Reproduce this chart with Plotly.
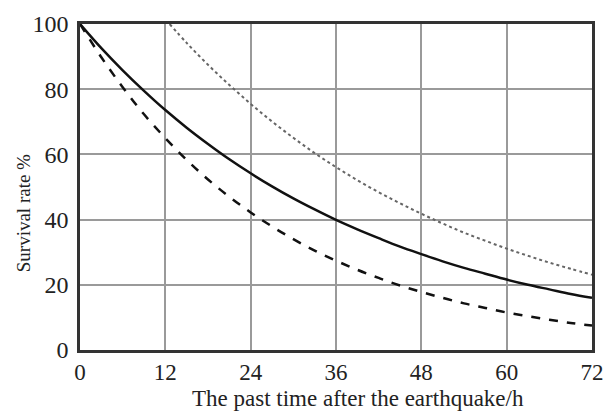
import plotly.graph_objects as go

hours = [0, 3, 6, 9, 12, 15, 18, 21, 24, 27, 30, 33, 36, 39, 42, 45, 48, 51, 54, 57, 60, 63, 66, 69, 72]
solid_rate = [100, 92.6, 85.8, 79.5, 73.6, 68.2, 63.2, 58.5, 54.2, 50.2, 46.5, 43.1, 39.9,
              37.0, 34.3, 31.7, 29.4, 27.2, 25.2, 23.4, 21.6, 20.0, 18.6, 17.2, 16.0]
dashed_rate = [100, 89.8, 80.6, 72.3, 65.0, 58.3, 52.3, 47.0, 42.2, 37.9, 34.0, 30.5, 27.4,
               24.6, 22.1, 19.8, 17.8, 16.0, 14.3, 12.9, 11.5, 10.4, 9.3, 8.3, 7.5]
dotted_hours = [12.6, 15, 18, 21, 24, 27, 30, 33, 36, 39, 42, 45, 48, 51, 54, 57, 60, 63, 66, 69, 72]
dotted_rate = [100, 94.2, 87.5, 81.3, 75.5, 70.1, 65.1, 60.4, 56.1, 52.1, 48.4, 45.0, 41.8,
               38.8, 36.0, 33.5, 31.1, 28.9, 26.8, 24.9, 23.1]
x_ticks = [0, 12, 24, 36, 48, 60, 72]
y_ticks = [0, 20, 40, 60, 80, 100]

fig = go.Figure()
fig.add_trace(go.Scatter(x=dotted_hours, y=dotted_rate, mode="lines",
                         line=dict(color="#666666", width=2, dash="dot", shape="spline")))
fig.add_trace(go.Scatter(x=hours, y=dashed_rate, mode="lines",
                         line=dict(color="#111111", width=2.5, dash="dash", shape="spline")))
fig.add_trace(go.Scatter(x=hours, y=solid_rate, mode="lines",
                         line=dict(color="#111111", width=2.5, shape="spline")))

font = "Liberation Serif"
fig.update_layout(
    width=615, height=415,
    margin=dict(l=80, r=11, t=16, b=65),
    paper_bgcolor="white", plot_bgcolor="white",
    showlegend=False,
    font=dict(family=font, size=20, color="#222222"),
    xaxis=dict(range=[0, 72], tickvals=x_ticks, showgrid=True, gridcolor="#9a9a9a",
               gridwidth=1.5, showline=True, linecolor="#333333", linewidth=2.5,
               mirror=True, zeroline=False, ticks="", ticklabelstandoff=0,
               tickfont=dict(family=font, size=23)),
    yaxis=dict(range=[0, 100], tickvals=y_ticks, showgrid=True, gridcolor="#9a9a9a",
               gridwidth=1.5, showline=True, linecolor="#333333", linewidth=2.5,
               mirror=True, zeroline=False, ticks="", ticklabelstandoff=4,
               tickfont=dict(family=font, size=24)),
    annotations=[
        dict(text="The past time after the earthquake/h", xref="paper", yref="paper",
             x=0.542, y=-0.148, xanchor="center", yanchor="middle", showarrow=False,
             font=dict(family=font, size=23, color="#222222")),
        dict(text="Survival rate %", xref="paper", yref="paper", textangle=-90,
             x=-0.111, y=0.42, xanchor="center", yanchor="middle", showarrow=False,
             font=dict(family=font, size=19, color="#222222")),
    ],
)

fig.write_html("out.html")
